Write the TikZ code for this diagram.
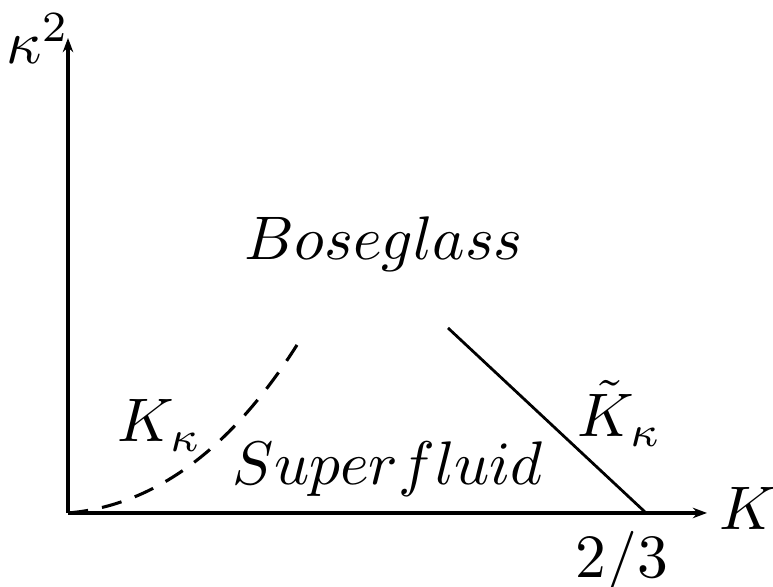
\documentclass[tikz,border=0pt]{standalone}
\usepackage{amsmath}
\usetikzlibrary{arrows.meta, positioning}

\begin{document}
\begin{tikzpicture}[
    x=0.1625pt, y=-0.1625pt,
    ax/.style={-{Stealth[length=2.3pt, width=1.7pt]}, line width=0.5pt},
    bd/.style={line width=0.45pt},
    dbd/.style={line width=0.5pt, dash pattern=on 3.3pt off 2.3pt},
    lbl/.style={inner sep=0pt, anchor=base}
]
\useasboundingbox (0,0) rectangle (773,587);
\coordinate (o)    at (68,513);
\coordinate (ytip) at (68,38);
\coordinate (xtip) at (707,513);
\coordinate (kk)   at (297,345);
\coordinate (kt1)  at (448,328);
\coordinate (kt2)  at (645,512);

\draw[ax] (o) -- (ytip);
\draw[ax] (o) -- (xtip);
\draw[dbd] (o) .. controls (165,505) and (240,435) .. (kk);
\draw[bd] (kt1) -- (kt2);

\node[lbl] (yl)   at (38,64)  {$\kappa^2$};
\node[lbl] (xl)   at (748,530) {$K$};
\node[lbl] (tick) at (622,578) {$2/3$};
\node[lbl] (bg)   at (384,260) {$Boseglass$};
\node[lbl] (sf)   at (388,485) {$Superfluid$};
\node[lbl] (kl)   at (160,442) {$K_\kappa$};
\node[lbl] (ktl)  at (620,437) {$\tilde{K}_\kappa$};
\end{tikzpicture}
\end{document}
